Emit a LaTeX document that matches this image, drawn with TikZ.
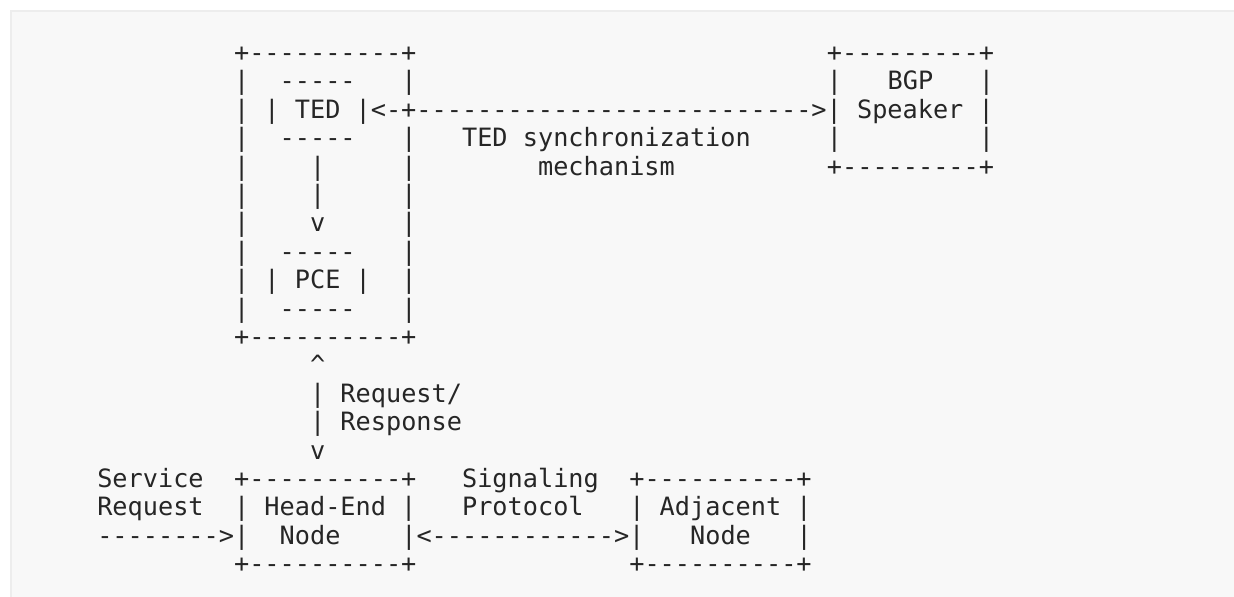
\documentclass[tikz,border=0pt]{standalone}
\usepackage{fontspec}
\setmonofont{DejaVu Sans Mono}
\definecolor{inkc}{HTML}{262626}
\definecolor{paperc}{HTML}{F8F8F8}
\definecolor{framec}{HTML}{EDEDED}
\tikzset{
  txt/.style={font=\ttfamily\fontsize{12.62pt}{14.2pt}\selectfont, text=inkc, inner sep=0pt, outer sep=0pt, anchor=base west},
}
% place a text fragment: name, column, line, text
\newcommand\asc[4]{\node[txt] (#1) at ({51.7+#2*15.2},{61.5+(#3-1)*28.4}) {#4};}
\begin{document}
\begin{tikzpicture}[x=0.5pt,y=-0.5pt]
\useasboundingbox (0,0) rectangle (1234,597);
\fill[paperc] (11,11) rectangle (1234,597);
\draw[framec, line width=1pt] (11,597) -- (11,11) -- (1234,11);
% line 1
\asc{a1}{12}{1}{+----------+}
\asc{b1}{51}{1}{+---------+}
% line 2
\asc{a2}{12}{2}{|}
\asc{c2}{15}{2}{-----}
\asc{d2}{23}{2}{|}
\asc{b2}{51}{2}{|}
\asc{e2}{55}{2}{BGP}
\asc{f2}{61}{2}{|}
% line 3
\asc{a3}{12}{3}{| | TED |<-+-------------------------->| Speaker |}
% line 4
\asc{a4}{12}{4}{|}
\asc{c4}{15}{4}{-----}
\asc{d4}{23}{4}{|}
\asc{s4}{27}{4}{TED synchronization}
\asc{b4}{51}{4}{|}
\asc{f4}{61}{4}{|}
% line 5
\asc{a5}{12}{5}{|}
\asc{c5}{17}{5}{|}
\asc{d5}{23}{5}{|}
\asc{s5}{32}{5}{mechanism}
\asc{b5}{51}{5}{+---------+}
% line 6
\asc{a6}{12}{6}{|}
\asc{c6}{17}{6}{|}
\asc{d6}{23}{6}{|}
% line 7
\asc{a7}{12}{7}{|}
\asc{c7}{17}{7}{v}
\asc{d7}{23}{7}{|}
% line 8
\asc{a8}{12}{8}{|}
\asc{c8}{15}{8}{-----}
\asc{d8}{23}{8}{|}
% line 9
\asc{a9}{12}{9}{| | PCE |}
\asc{d9}{23}{9}{|}
% line 10
\asc{a10}{12}{10}{|}
\asc{c10}{15}{10}{-----}
\asc{d10}{23}{10}{|}
% line 11
\asc{a11}{12}{11}{+----------+}
% lines 12-15
\asc{c12}{17}{12}{\textasciicircum}
\asc{c13}{17}{13}{| Request/}
\asc{c14}{17}{14}{| Response}
\asc{c15}{17}{15}{v}
% line 16
\asc{g16}{3}{16}{Service}
\asc{a16}{12}{16}{+----------+}
\asc{s16}{27}{16}{Signaling}
\asc{h16}{38}{16}{+----------+}
% line 17
\asc{g17}{3}{17}{Request}
\asc{a17}{12}{17}{| Head-End |}
\asc{s17}{27}{17}{Protocol}
\asc{h17}{38}{17}{| Adjacent |}
% line 18
\asc{g18}{3}{18}{-------->|}
\asc{n18}{15}{18}{Node}
\asc{d18}{23}{18}{|<------------>|}
\asc{m18}{42}{18}{Node}
\asc{k18}{49}{18}{|}
% line 19
\asc{a19}{12}{19}{+----------+}
\asc{h19}{38}{19}{+----------+}
\end{tikzpicture}
\end{document}
